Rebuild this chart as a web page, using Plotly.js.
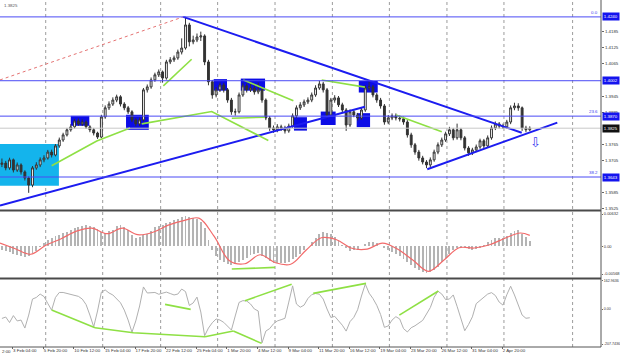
<!DOCTYPE html>
<html><head><meta charset="utf-8">
<script src="https://cdn.plot.ly/plotly-3.0.1.min.js"></script>
<style>html,body{margin:0;padding:0;background:#fff}#chart{width:620px;height:357px}</style>
</head><body><div id="chart"></div>
<script>
// ---------- DATA ----------
const dateLabels = ['3 Feb 04:00','5 Feb 20:00','10 Feb 12:00','15 Feb 04:00','17 Feb 20:00','22 Feb 12:00','25 Feb 04:00','1 Mar 20:00','4 Mar 12:00','9 Mar 04:00','11 Mar 20:00','16 Mar 12:00','19 Mar 04:00','23 Mar 20:00','26 Mar 12:00','31 Mar 04:00','2 Apr 20:00'];
const firstLabelBar = 6.6;   // bar index of the first date label
const barsPerLabel = 16;

const firstOpen = 1.3690;
const closes = [1.3695,1.3677,1.3707,1.3669,1.3688,1.3662,1.3639,1.3613,1.3677,1.3688,
 1.3707,1.3714,1.3736,1.3725,1.3759,1.3781,1.3800,1.3819,1.3830,1.3852,
 1.3841,1.3848,1.3830,1.3819,1.3807,1.3792,1.3867,1.3901,1.3915,1.3930,
 1.3942,1.3915,1.3901,1.3886,1.3856,1.3841,1.3856,1.3968,1.3979,1.4005,
 1.4024,1.4035,1.4012,1.4072,1.4080,1.4087,1.4109,1.4124,1.4210,1.4147,
 1.4154,1.4165,1.4169,1.4072,1.3998,1.3949,1.3968,1.3986,1.3968,1.3930,
 1.3886,1.3886,1.3949,1.3983,1.3968,1.3975,1.3960,1.3968,1.3930,1.3863,
 1.3826,1.3819,1.3830,1.3826,1.3815,1.3833,1.3871,1.3901,1.3912,1.3923,
 1.3930,1.3949,1.3975,1.3990,1.3968,1.3874,1.3930,1.3938,1.3912,1.3893,
 1.3837,1.3886,1.3874,1.3863,1.3893,1.3975,1.3979,1.3949,1.3930,1.3908,
 1.3848,1.3863,1.3871,1.3863,1.3860,1.3848,1.3800,1.3763,1.3736,1.3714,
 1.3699,1.3688,1.3707,1.3736,1.3763,1.3781,1.3804,1.3819,1.3789,1.3819,
 1.3789,1.3751,1.3733,1.3744,1.3755,1.3778,1.3759,1.3789,1.3826,1.3841,
 1.3833,1.3830,1.3848,1.3901,1.3908,1.3901,1.3826,1.3819,1.3825];
const highs = [1.3712,1.3703,1.3715,1.3712,1.3697,1.3694,1.3668,1.3645,1.3684,1.3698,
 1.3716,1.3724,1.3744,1.3745,1.3766,1.3790,1.3808,1.3826,1.3840,1.3860,
 1.3861,1.3858,1.3854,1.3836,1.3826,1.3812,1.3875,1.3910,1.3925,1.3940,
 1.3950,1.3948,1.3922,1.3908,1.3892,1.3862,1.3865,1.3975,1.3988,1.4014,
 1.4032,1.4044,1.4040,1.4080,1.4090,1.4096,1.4118,1.4160,1.4240,1.4218,
 1.4170,1.4178,1.4185,1.4175,1.4080,1.4005,1.3978,1.3995,1.3994,1.3975,
 1.3938,1.3898,1.3958,1.3994,1.3992,1.3990,1.3985,1.3995,1.3975,1.3936,
 1.3870,1.3835,1.3840,1.3838,1.3834,1.3842,1.3880,1.3910,1.3922,1.3932,
 1.3940,1.3958,1.3985,1.4002,1.3998,1.3975,1.3938,1.3948,1.3945,1.3920,
 1.3900,1.3895,1.3894,1.3882,1.3902,1.3985,1.4000,1.3986,1.3956,1.3938,
 1.3915,1.3874,1.3880,1.3880,1.3872,1.3868,1.3855,1.3808,1.3770,1.3744,
 1.3722,1.3706,1.3716,1.3745,1.3772,1.3790,1.3812,1.3830,1.3826,1.3842,
 1.3826,1.3796,1.3758,1.3752,1.3764,1.3786,1.3785,1.3798,1.3835,1.3850,
 1.3848,1.3842,1.3856,1.3910,1.3920,1.3918,1.3906,1.3834,1.3832];
const lows = [1.3680,1.3668,1.3670,1.3660,1.3662,1.3652,1.3630,1.3584,1.3605,1.3670,
 1.3680,1.3698,1.3708,1.3716,1.3720,1.3752,1.3774,1.3794,1.3812,1.3824,
 1.3834,1.3833,1.3822,1.3810,1.3798,1.3785,1.3788,1.3860,1.3893,1.3908,
 1.3922,1.3906,1.3892,1.3878,1.3848,1.3832,1.3833,1.3850,1.3958,1.3972,
 1.3998,1.4016,1.3995,1.4006,1.4064,1.4072,1.4080,1.4100,1.4118,1.4130,
 1.4138,1.4146,1.4150,1.4060,1.3985,1.3935,1.3940,1.3960,1.3958,1.3920,
 1.3875,1.3872,1.3880,1.3942,1.3958,1.3960,1.3950,1.3952,1.3920,1.3855,
 1.3815,1.3808,1.3810,1.3815,1.3805,1.3808,1.3826,1.3864,1.3893,1.3904,
 1.3915,1.3922,1.3942,1.3968,1.3958,1.3862,1.3868,1.3920,1.3904,1.3884,
 1.3815,1.3830,1.3866,1.3854,1.3856,1.3886,1.3965,1.3940,1.3920,1.3898,
 1.3838,1.3840,1.3855,1.3854,1.3850,1.3838,1.3790,1.3752,1.3726,1.3704,
 1.3690,1.3676,1.3680,1.3700,1.3728,1.3755,1.3774,1.3796,1.3780,1.3782,
 1.3780,1.3742,1.3722,1.3725,1.3736,1.3748,1.3750,1.3752,1.3782,1.3818,
 1.3824,1.3822,1.3822,1.3840,1.3892,1.3890,1.3815,1.3810,1.3814];

const macdHist = [-0.00065,-0.00083,-0.00102,-0.00139,-0.00157,-0.00176,-0.00194,-0.00176,-0.00120,-0.00083,
 -0.00009,0.00065,0.00120,0.00157,0.00194,0.00213,0.00250,0.00268,0.00305,0.00342,
 0.00361,0.00379,0.00398,0.00379,0.00361,0.00324,0.00268,0.00250,0.00287,0.00305,
 0.00379,0.00398,0.00361,0.00305,0.00213,0.00157,0.00176,0.00213,0.00231,0.00287,
 0.00361,0.00379,0.00398,0.00435,0.00453,0.00490,0.00509,0.00546,0.00564,0.00546,
 0.00527,0.00509,0.00453,0.00342,0.00120,-0.00065,-0.00176,-0.00250,-0.00287,-0.00324,
 -0.00342,-0.00324,-0.00287,-0.00250,-0.00213,-0.00157,-0.00139,-0.00130,-0.00176,-0.00213,
 -0.00268,-0.00305,-0.00305,-0.00305,-0.00305,-0.00287,-0.00231,-0.00194,-0.00139,-0.00065,
 0.00009,0.00083,0.00157,0.00231,0.00268,0.00250,0.00231,0.00176,0.00120,0.00028,
 -0.00028,-0.00083,-0.00074,-0.00065,0.00009,0.00046,0.00083,0.00083,0.00065,0.00009,
 -0.00028,-0.00065,-0.00102,-0.00139,-0.00176,-0.00231,-0.00287,-0.00342,-0.00398,-0.00435,
 -0.00472,-0.00490,-0.00472,-0.00435,-0.00379,-0.00287,-0.00213,-0.00139,-0.00065,-0.00028,
 -0.00009,-0.00009,-0.00046,-0.00065,-0.00046,-0.00028,0.00028,0.00083,0.00120,0.00157,
 0.00157,0.00157,0.00194,0.00250,0.00287,0.00305,0.00231,0.00176,0.00102];
const signalBars = [0,8,16,24,32,40,48,56,64,72,80,88,96,104,112,120,128,136,144,152,160,168,176,184,192,200,208,216,224,232,240,248,256,264,272,277];
const signalVals = [0.00059,-0.00046,-0.00148,0.00019,0.00139,0.00278,0.00333,0.00231,0.00333,0.00213,
 0.00259,0.00389,0.00472,0.00518,0.00181,-0.00268,-0.00324,-0.00157,-0.00305,-0.00333,
 -0.00074,0.00157,0.00120,-0.00037,-0.00052,0.00056,-0.00056,-0.00259,-0.00463,-0.00259,
 -0.00028,-0.00033,0.00028,0.00148,0.00244,0.00200];

const cci = [-53,-45,-76,-37,-67,-62,-107,-34,56,65,
 84,70,31,-6,65,93,93,88,81,77,
 71,56,25,-34,-100,-11,95,107,90,79,
 59,35,-6,-62,-130,-67,17,124,90,93,
 93,83,87,95,87,79,84,112,98,20,
 34,67,-17,-150,-107,-77,-56,-62,-75,-95,
 -118,-39,37,47,45,28,0,-11,-190,-124,
 -110,-83,-67,-60,-52,39,130,28,10,22,
 59,81,87,83,56,0,-48,-41,-63,-91,
 -124,-71,-47,-4,73,140,89,59,21,-31,
 -103,-95,-62,-43,-56,-110,-129,-105,-94,-81,
 -64,-28,8,66,100,84,53,56,79,15,
 -56,-122,-87,-44,30,47,63,84,92,76,
 39,22,80,128,79,22,-34,-52,-49];

// drawing objects (bar index / price)
const levelPrices = [1.4240, 1.4002, 1.3870, 1.3643];
const levelFibText = ['0.0', '', '23.6', '38.2'];
const bidPrice = 1.3825;
const priceTicks = [1.3525,1.3585,1.3705,1.3765,1.3885,1.3945,1.4065,1.4125,1.4185];
const macdTickVals = [0.00595, 0, -0.00513];
const macdTickText = ['0.00632', '0.00', '-0.00568'];
const cciTickVals = [160, 0, -197];
const cciTickText = ['162.9636', '0.00', '-207.7436'];
const gridBars = [23.9, 53.7, 84.0, 113.8, 143.8, 173.8, 203.6, 233.7, 263.5, 299.4];

const downTrendBars = [95.8, 272.8];
const downTrendPrices = [1.4240, 1.3808];
const upLongBars = [0, 190.8];
const upLongPrices = [1.3537, 1.3905];
const upShortBars = [223.4, 291.4];
const upShortPrices = [1.3672, 1.3846];
const redDotBars = [0, 95.8];
const redDotPrices = [1.4005, 1.4240];

const greenMainBars = [[27.0,50.6,68.0],[74.1,110.7,140.3],[121.2,138.6],[85.4,100.2],[127.2,153.4],[168.2,190.8],[207.1,231.0]];
const greenMainPrices = [[1.3685,1.3777,1.3826],[1.3841,1.3887,1.3779],[1.3862,1.3866],[1.3983,1.4082],[1.4005,1.3927],[1.4005,1.3978],[1.3874,1.3812]];
const greenMacdBars = [[121.2, 143.8]];
const greenMacdVals = [[-0.00421, -0.00390]];
const greenCciBars = [[27.0,49.7],[49.7,69.7,107.2],[107.2,122.0],[122.0,136.8],[128.1,152.5],[86.3,99.7],[163.8,191.4],[208.8,229.2]];
const greenCciVals = [[-6,-105],[-105,-133,-156],[-156,-124],[-124,-193],[47,139],[26,-2],[88,144],[-34,101]];

const boxBarL = [37.0, 65.9, 111.7, 125.9, 153.7, 167.7, 187.6, 186.5];
const boxBarR = [46.7, 77.8, 118.7, 138.6, 160.5, 175.5, 197.5, 193.5];
const boxTop = [1.3871, 1.3875, 1.4008, 1.4010, 1.3866, 1.3887, 1.4001, 1.3881];
const boxBot = [1.3834, 1.3819, 1.3965, 1.3965, 1.3816, 1.3837, 1.3958, 1.3829];
const zoneBars = [-1, 30.8];
const zonePrices = [1.3766, 1.3610];
const arrowBar = 280.2, arrowPrice = 1.3770;

// ---------- BUILD ----------
const FONT = 'Liberation Sans, Arial, sans-serif';
const FS = 4.4;
const BLUE = '#1c1cf0', GREEN = '#8ee044';
const candleBars = closes.map((_, i) => 2 * i + 1);
const opens = closes.map((c, i) => i === 0 ? firstOpen : closes[i - 1]);
const traces = [];

traces.push({type:'bar', x:candleBars, y:macdHist, xaxis:'x', yaxis:'y2', width:1.0,
  marker:{color:'#b4b4b4', line:{width:0}}, hoverinfo:'skip'});
traces.push({type:'scatter', mode:'lines', x:signalBars, y:signalVals, xaxis:'x', yaxis:'y2',
  line:{color:'#f26a6a', width:1.2, shape:'spline'}, hoverinfo:'skip'});
traces.push({type:'scatter', mode:'lines', x:candleBars, y:cci, xaxis:'x', yaxis:'y3',
  line:{color:'#b0b0b0', width:1}, hoverinfo:'skip'});

traces.push({type:'scatter', mode:'lines', x:redDotBars, y:redDotPrices, xaxis:'x', yaxis:'y',
  line:{color:'#e57373', width:1, dash:'dot'}, hoverinfo:'skip'});
traces.push({type:'candlestick', x:candleBars, open:opens, high:highs, low:lows, close:closes,
  xaxis:'x', yaxis:'y', whiskerwidth:0,
  increasing:{line:{color:'#333333', width:1}, fillcolor:'#ffffff'},
  decreasing:{line:{color:'#333333', width:1}, fillcolor:'#333333'}, hoverinfo:'skip'});

[[downTrendBars, downTrendPrices], [upLongBars, upLongPrices], [upShortBars, upShortPrices]].forEach(([xs, ys]) => {
  traces.push({type:'scatter', mode:'lines', x:xs, y:ys, xaxis:'x', yaxis:'y', line:{color:BLUE, width:2}, hoverinfo:'skip'});
});
greenMainBars.forEach((xs, k) => traces.push({type:'scatter', mode:'lines', x:xs, y:greenMainPrices[k], xaxis:'x', yaxis:'y', line:{color:GREEN, width:1.6}, hoverinfo:'skip'}));
greenMacdBars.forEach((xs, k) => traces.push({type:'scatter', mode:'lines', x:xs, y:greenMacdVals[k], xaxis:'x', yaxis:'y2', line:{color:GREEN, width:1.6}, hoverinfo:'skip'}));
greenCciBars.forEach((xs, k) => traces.push({type:'scatter', mode:'lines', x:xs, y:greenCciVals[k], xaxis:'x', yaxis:'y3', line:{color:GREEN, width:1.6}, hoverinfo:'skip'}));

const shapes = [];
gridBars.forEach(b => shapes.push({type:'line', xref:'x', yref:'paper', x0:b, x1:b, y0:0, y1:1, layer:'below',
  line:{color:'#9c9c9c', width:1, dash:'dot'}}));
shapes.push({type:'rect', xref:'x', yref:'y', x0:zoneBars[0], x1:zoneBars[1], y0:zonePrices[0], y1:zonePrices[1],
  layer:'below', fillcolor:'#14b4ec', line:{width:0}});
boxBarL.forEach((b, k) => shapes.push({type:'rect', xref:'x', yref:'y', x0:b, x1:boxBarR[k], y0:boxTop[k], y1:boxBot[k],
  layer:'below', fillcolor:'#0c0ce6', line:{width:0}}));
levelPrices.forEach(p => shapes.push({type:'line', xref:'paper', yref:'y', x0:0, x1:1, y0:p, y1:p, line:{color:'#4a4af5', width:1}}));
shapes.push({type:'line', xref:'paper', yref:'y', x0:0, x1:1, y0:bidPrice, y1:bidPrice, line:{color:'#c8c8c8', width:1}});
// pane separators and frame
[1 - 210.5/347, 1 - 278.5/347].forEach(y => shapes.push({type:'line', xref:'paper', yref:'paper', x0:0, x1:1, y0:y, y1:y, line:{color:'#4a4a4a', width:2}}));
shapes.push({type:'line', xref:'paper', yref:'paper', x0:1, x1:1, y0:0, y1:1, line:{color:'#555', width:1}});
shapes.push({type:'line', xref:'paper', yref:'paper', x0:0, x1:1, y0:0, y1:0, line:{color:'#555', width:1}});

const annotations = [];
levelPrices.forEach((p, k) => {
  annotations.push({xref:'paper', yref:'y', x:1, y:p, xanchor:'left', yanchor:'middle', xshift:1, showarrow:false,
    text:p.toFixed(4), font:{family:FONT, size:FS, color:'#ffffff'}, bgcolor:'#1414ee', borderpad:0.8});
  if (levelFibText[k]) annotations.push({xref:'paper', yref:'y', x:1, y:p, xanchor:'right', yanchor:'bottom', xshift:-1, showarrow:false,
    text:levelFibText[k], font:{family:FONT, size:FS, color:'#3a3af0'}});
});
annotations.push({xref:'paper', yref:'y', x:1, y:bidPrice, xanchor:'left', yanchor:'middle', xshift:1, showarrow:false,
  text:bidPrice.toFixed(4), font:{family:FONT, size:FS, color:'#ffffff'}, bgcolor:'#111111', borderpad:0.8});
annotations.push({xref:'x', yref:'y', x:arrowBar, y:arrowPrice, showarrow:false, text:'⇩',
  font:{family:'DejaVu Sans', size:13, color:'#3a3af0'}});
annotations.push({xref:'paper', yref:'paper', x:0, y:0, xanchor:'left', yanchor:'middle', yshift:-4, showarrow:false,
  text:'2:00', font:{family:FONT, size:FS, color:'#333'}});
annotations.push({xref:'paper', yref:'paper', x:0.004, y:1, xanchor:'left', yanchor:'top', yshift:-1, showarrow:false,
  text:'1.3825', font:{family:FONT, size:FS, color:'#555'}});

const yCommon = {side:'right', anchor:'x', ticks:'outside', ticklen:2, tickcolor:'#666', showgrid:false, zeroline:false,
  showline:false, fixedrange:true, tickfont:{family:FONT, size:FS, color:'#333'}};

const layout = {
  width:620, height:357, margin:{l:0, r:19, t:0, b:10, pad:0},
  paper_bgcolor:'#ffffff', plot_bgcolor:'#ffffff', showlegend:false, bargap:0,
  xaxis:{type:'linear', range:[0, 601/1.9125], anchor:'y3', domain:[0,1], rangeslider:{visible:false},
    tickvals:dateLabels.map((_, k) => firstLabelBar + barsPerLabel * k), ticktext:dateLabels,
    tickangle:0, automargin:false,
    ticklabelposition:'outside right', ticks:'outside', ticklen:2, tickcolor:'#666',
    tickfont:{family:FONT, size:FS, color:'#333'}, showgrid:false, zeroline:false, showline:false, fixedrange:true},
  yaxis:Object.assign({}, yCommon, {domain:[1 - 210/347, 1], range:[1.3520, 1.4303], tickvals:priceTicks, tickformat:'.4f'}),
  yaxis2:Object.assign({}, yCommon, {domain:[1 - 277/347, 1 - 212/347], range:[-0.00568, 0.00632], tickvals:macdTickVals, ticktext:macdTickText,
    ticklen:1, tickfont:{family:FONT, size:4.0, color:'#333'}}),
  yaxis3:Object.assign({}, yCommon, {domain:[1 - 346/347, 1 - 280/347], range:[-207.7436, 162.9636], tickvals:cciTickVals, ticktext:cciTickText,
    ticklen:1, tickfont:{family:FONT, size:3.6, color:'#333'}}),
  shapes:shapes, annotations:annotations
};

Plotly.newPlot('chart', traces, layout, {staticPlot:true, displayModeBar:false});
</script></body></html>
